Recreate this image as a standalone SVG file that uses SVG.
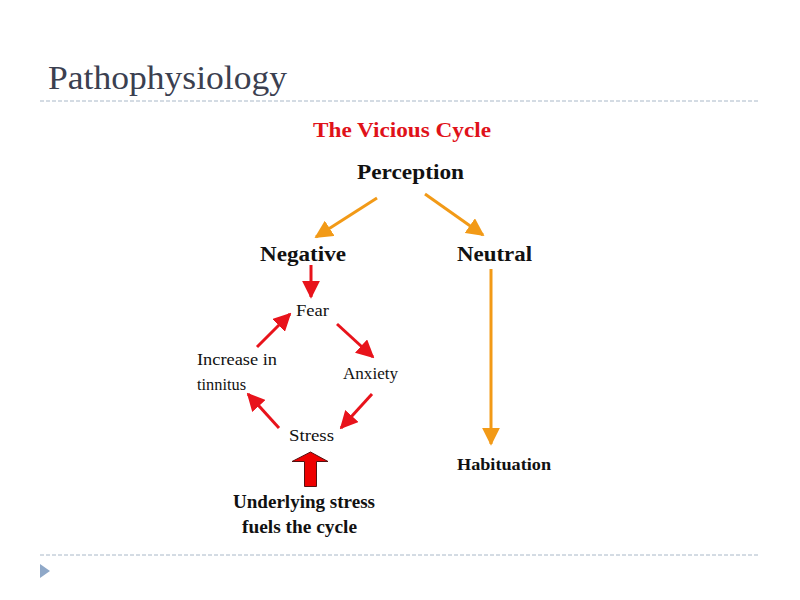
<svg xmlns="http://www.w3.org/2000/svg" width="800" height="600" viewBox="0 0 800 600">
<defs>
<style>
.s{font-family:"Liberation Serif","Times New Roman",serif}
.b{font-weight:bold;fill:#111}
.r{fill:#111;font-size:16px}
.or{stroke:#f29a17;stroke-width:3;fill:none}
.rd{stroke:#e8131b;stroke-width:3;fill:none}
.dash{stroke:#a9b8c8;stroke-width:1;stroke-dasharray:4 2}
</style>
<marker id="ho" viewBox="0 0 10 10" refX="9" refY="5" markerWidth="6" markerHeight="6" markerUnits="strokeWidth" orient="auto"><path d="M0,0 L10,5 L0,10 z" fill="#f29a17"/></marker>
<marker id="hr" viewBox="0 0 10 10" refX="9" refY="5" markerWidth="6" markerHeight="6" markerUnits="strokeWidth" orient="auto"><path d="M0,0 L10,5 L0,10 z" fill="#e8131b"/></marker>
</defs>
<rect width="800" height="600" fill="#fff"/>
<text class="s" x="48" y="89" font-size="34" fill="#3b4050" textLength="239" lengthAdjust="spacingAndGlyphs">Pathophysiology</text>
<line class="dash" x1="40" y1="101" x2="760" y2="101"/>
<line class="dash" x1="40" y1="555" x2="760" y2="555"/>
<path d="M40,564 L50,571 L40,578 z" fill="#8fa8c8"/>
<text class="s" x="313" y="137" font-size="20" font-weight="bold" fill="#e0121a" textLength="178" lengthAdjust="spacingAndGlyphs">The Vicious Cycle</text>
<g id="perception"><text class="s b" x="357" y="179" font-size="20" textLength="107" lengthAdjust="spacingAndGlyphs">Perception</text></g>
<g id="negative"><text class="s b" x="260" y="261" font-size="20" textLength="86" lengthAdjust="spacingAndGlyphs">Negative</text></g>
<g id="neutral"><text class="s b" x="457" y="261" font-size="20" textLength="75" lengthAdjust="spacingAndGlyphs">Neutral</text></g>
<g id="fear"><text class="s r" x="296" y="316" textLength="33" lengthAdjust="spacingAndGlyphs">Fear</text></g>
<g id="anxiety"><text class="s r" x="343" y="379" textLength="55" lengthAdjust="spacingAndGlyphs">Anxiety</text></g>
<g id="stress"><text class="s r" x="289" y="441" textLength="45" lengthAdjust="spacingAndGlyphs">Stress</text></g>
<g id="increase"><text class="s r" x="197" y="365" textLength="80" lengthAdjust="spacingAndGlyphs">Increase in</text><text class="s r" x="197" y="390" textLength="49" lengthAdjust="spacingAndGlyphs">tinnitus</text></g>
<g id="habituation"><text class="s b" x="457" y="470" font-size="17" textLength="94" lengthAdjust="spacingAndGlyphs">Habituation</text></g>
<g id="underlying"><text class="s b" x="233" y="508" font-size="18" textLength="142" lengthAdjust="spacingAndGlyphs">Underlying stress</text><text class="s b" x="242" y="533" font-size="18" textLength="115" lengthAdjust="spacingAndGlyphs">fuels the cycle</text>
<path d="M304.5,486.5 L304.5,461.5 L292,461.5 L310.5,452 L328,461.5 L316.5,461.5 L316.5,486.5 z" fill="#ee0000" stroke="#551111" stroke-width="1"/></g>
<g id="connectors">
<line class="or" x1="377" y1="198" x2="316" y2="237" marker-end="url(#ho)"/>
<line class="or" x1="425" y1="194" x2="483" y2="235" marker-end="url(#ho)"/>
<line class="or" x1="491" y1="269" x2="491" y2="444" marker-end="url(#ho)"/>
<line class="rd" x1="311" y1="265" x2="311" y2="297" marker-end="url(#hr)"/>
<line class="rd" x1="337" y1="324" x2="373" y2="357" marker-end="url(#hr)"/>
<line class="rd" x1="372" y1="394" x2="341" y2="428" marker-end="url(#hr)"/>
<line class="rd" x1="279" y1="428" x2="248" y2="394" marker-end="url(#hr)"/>
<line class="rd" x1="257" y1="347" x2="290" y2="314" marker-end="url(#hr)"/>
</g>
</svg>
